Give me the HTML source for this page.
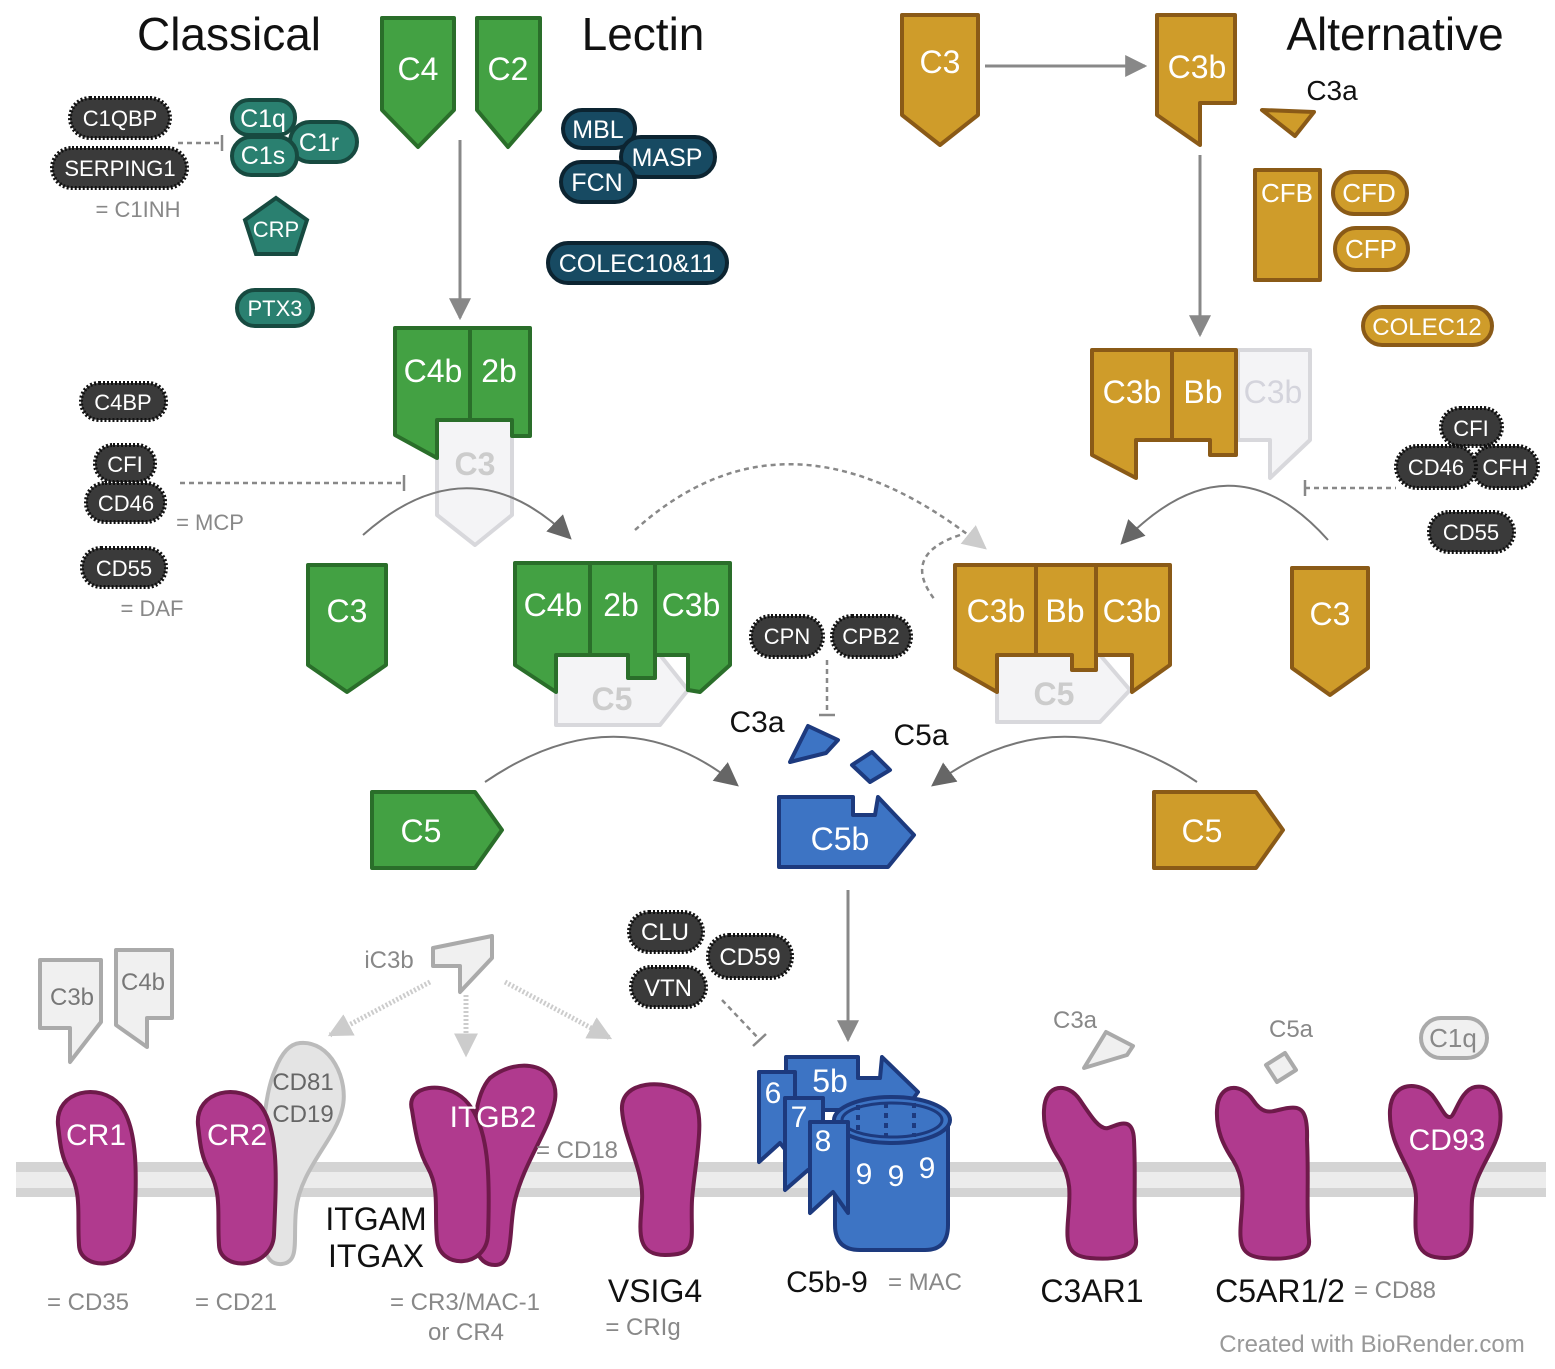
<!DOCTYPE html>
<html><head><meta charset="utf-8"><style>
html,body{margin:0;padding:0;background:#fff}
svg{display:block}
text{font-family:"Liberation Sans",sans-serif}
.w{fill:#fff;text-anchor:middle}
.g{fill:#888}
.k{fill:#111}
.m{text-anchor:middle}
.gr{fill:#43a143;stroke:#2a6e2a;stroke-width:4;stroke-linejoin:round}
.go{fill:#cf9c2a;stroke:#8a5a17;stroke-width:4;stroke-linejoin:round}
.gh{fill:#f4f4f6;stroke:#d8d8dc;stroke-width:4;stroke-linejoin:round}
.gg{fill:#f0f0f0;stroke:#aaa;stroke-width:4;stroke-linejoin:round}
.bl{fill:#3d74c4;stroke:#1d3a7e;stroke-width:4;stroke-linejoin:round}
.mg{fill:#b03a8e;stroke:#6e1a4a;stroke-width:4;stroke-linejoin:round}
.tl{fill:#2a8070;stroke:#174a40;stroke-width:4}
.nv{fill:#174a62;stroke:#0c2431;stroke-width:4}
.dk{fill:#3a3a3a;stroke:#111;stroke-width:4;stroke-dasharray:2 2}
.ln{stroke:#888;stroke-width:3;fill:none}
.dl{stroke:#888;stroke-width:2.5;fill:none;stroke-dasharray:5 4}
</style></head><body>
<svg width="1555" height="1369" viewBox="0 0 1555 1369" xmlns="http://www.w3.org/2000/svg">
<defs>
<marker id="ab" viewBox="0 0 20 20" markerWidth="22" markerHeight="22" refX="18" refY="10" orient="auto" markerUnits="userSpaceOnUse"><path d="M0,0 L20,10 L0,20 z" fill="#888"/></marker>
<marker id="ac" viewBox="0 0 20 20" markerWidth="24" markerHeight="24" refX="18" refY="10" orient="auto" markerUnits="userSpaceOnUse"><path d="M0,0 L20,10 L0,20 z" fill="#666"/></marker>
<marker id="al" viewBox="0 0 20 20" markerWidth="24" markerHeight="24" refX="18" refY="10" orient="auto" markerUnits="userSpaceOnUse"><path d="M0,0 L20,10 L0,20 z" fill="#ccc"/></marker>
</defs>

<rect x="16" y="1162" width="1530" height="35" fill="#d4d4d4"/>
<rect x="16" y="1172" width="1530" height="16" fill="#ececec"/>

<text x="229" y="50" class="m k" font-size="46">Classical</text>
<text x="643" y="50" class="m k" font-size="46">Lectin</text>
<text x="1395" y="50" class="m k" font-size="46">Alternative</text>

<polygon class="gr" points="382,18 454,18 454,110 418,147 382,110"/>
<text x="418" y="80" class="w" font-size="32">C4</text>
<polygon class="gr" points="477,18 540,18 540,110 508,147 477,110"/>
<text x="508" y="80" class="w" font-size="32">C2</text>
<line x1="460" y1="140" x2="460" y2="318" class="ln" marker-end="url(#ab)"/>

<rect x="70" y="98" width="100" height="40" rx="20" class="dk"/><text x="120" y="126" class="w" font-size="22">C1QBP</text>
<rect x="52" y="148" width="135" height="40" rx="20" class="dk"/><text x="120" y="176" class="w" font-size="22">SERPING1</text>
<text x="138" y="217" class="g m" font-size="22">= C1INH</text>
<line x1="178" y1="143" x2="222" y2="143" class="dl"/><line x1="222" y1="135" x2="222" y2="151" stroke="#888" stroke-width="2.5"/>
<rect x="290" y="122" width="67" height="40" rx="20" class="tl"/><text x="319" y="151" class="w" font-size="25">C1r</text>
<rect x="232" y="100" width="63" height="35" rx="17" class="tl"/><text x="263" y="127" class="w" font-size="25">C1q</text>
<rect x="232" y="137" width="65" height="38" rx="19" class="tl"/><text x="263" y="164" class="w" font-size="25">C1s</text>
<polygon class="tl" points="276,198 307,220 296,254 256,254 245,220"/><text x="276" y="237" class="w" font-size="22">CRP</text>
<rect x="237" y="290" width="76" height="36" rx="18" class="tl"/><text x="275" y="316" class="w" font-size="22">PTX3</text>

<rect x="563" y="110" width="72" height="38" rx="19" class="nv"/><text x="598" y="138" class="w" font-size="25">MBL</text>
<rect x="621" y="137" width="94" height="40" rx="20" class="nv"/><text x="667" y="166" class="w" font-size="25">MASP</text>
<rect x="561" y="162" width="74" height="40" rx="20" class="nv"/><text x="597" y="191" class="w" font-size="25">FCN</text>
<rect x="548" y="243" width="179" height="40" rx="20" class="nv"/><text x="637" y="272" class="w" font-size="25">COLEC10&amp;11</text>

<polygon class="go" points="902,15 978,15 978,115 940,145 902,115"/>
<text x="940" y="73" class="w" font-size="32">C3</text>
<line x1="985" y1="66" x2="1145" y2="66" class="ln" marker-end="url(#ab)"/>
<polygon class="go" points="1157,15 1235,15 1235,103 1200,103 1200,145 1157,115"/>
<text x="1197" y="78" class="w" font-size="32">C3b</text>
<polygon class="go" points="1262,110 1314,112 1295,136"/>
<text x="1332" y="100" class="m k" font-size="28">C3a</text>
<rect x="1255" y="170" width="65" height="110" class="go"/><text x="1287" y="202" class="w" font-size="26">CFB</text>
<rect x="1333" y="172" width="74" height="42" rx="21" class="go"/><text x="1369" y="202" class="w" font-size="26">CFD</text>
<rect x="1335" y="228" width="73" height="42" rx="21" class="go"/><text x="1371" y="258" class="w" font-size="26">CFP</text>
<rect x="1363" y="307" width="129" height="38" rx="19" class="go"/><text x="1427" y="335" class="w" font-size="24">COLEC12</text>
<line x1="1200" y1="155" x2="1200" y2="335" class="ln" marker-end="url(#ab)"/>

<polygon class="gh" points="1238,350 1310,350 1310,440 1270,478 1270,440 1238,440"/>
<text x="1273" y="403" class="m" fill="#d4d4dc" font-size="32">C3b</text>
<polygon class="go" points="1092,350 1172,350 1172,440 1136,440 1136,478 1092,455"/>
<polygon class="go" points="1172,350 1236,350 1236,455 1210,455 1210,440 1172,440"/>
<text x="1132" y="403" class="w" font-size="32">C3b</text>
<text x="1203" y="403" class="w" font-size="32">Bb</text>

<rect x="1441" y="408" width="61" height="38" rx="19" class="dk"/><text x="1471" y="436" class="w" font-size="22">CFI</text>
<rect x="1472" y="446" width="66" height="42" rx="21" class="dk"/><text x="1505" y="475" class="w" font-size="22">CFH</text>
<rect x="1396" y="446" width="80" height="42" rx="21" class="dk"/><text x="1436" y="475" class="w" font-size="22">CD46</text>
<rect x="1429" y="512" width="85" height="40" rx="20" class="dk"/><text x="1471" y="540" class="w" font-size="22">CD55</text>
<line x1="1305" y1="488" x2="1396" y2="488" class="dl"/><line x1="1305" y1="480" x2="1305" y2="496" stroke="#888" stroke-width="2.5"/>
<path d="M1328,540 Q1230,430 1122,543" stroke="#777" stroke-width="2" fill="none" marker-end="url(#ac)"/>

<polygon class="gh" points="437,420 512,420 512,515 475,545 437,515"/>
<text x="475" y="475" class="m" fill="#ccc" font-size="32" font-weight="bold">C3</text>
<polygon class="gr" points="395,328 470,328 470,420 437,420 437,458 395,435"/>
<polygon class="gr" points="470,328 530,328 530,436 512,436 512,420 470,420"/>
<text x="433" y="382" class="w" font-size="32">C4b</text>
<text x="499" y="382" class="w" font-size="32">2b</text>

<rect x="81" y="383" width="85" height="37" rx="18" class="dk"/><text x="123" y="410" class="w" font-size="22">C4BP</text>
<rect x="95" y="445" width="60" height="37" rx="18" class="dk"/><text x="125" y="472" class="w" font-size="22">CFI</text>
<rect x="86" y="483" width="79" height="39" rx="19" class="dk"/><text x="126" y="511" class="w" font-size="22">CD46</text>
<text x="210" y="530" class="g m" font-size="22">= MCP</text>
<rect x="82" y="548" width="84" height="39" rx="19" class="dk"/><text x="124" y="576" class="w" font-size="22">CD55</text>
<text x="152" y="616" class="g m" font-size="22">= DAF</text>
<line x1="180" y1="483" x2="404" y2="483" class="dl"/><line x1="404" y1="475" x2="404" y2="491" stroke="#888" stroke-width="2.5"/>
<path d="M363,535 Q470,440 570,538" stroke="#777" stroke-width="2" fill="none" marker-end="url(#ac)"/>

<path d="M635,530 Q790,390 985,548" class="dl" stroke="#c4c4c4" marker-end="url(#al)"/>
<path d="M960,535 Q900,555 935,600" class="dl" stroke="#ccc"/>

<polygon class="gr" points="308,565 386,565 386,665 347,692 308,665"/>
<text x="347" y="622" class="w" font-size="32">C3</text>
<polygon class="gh" points="556,655 660,655 688,690 660,725 556,725"/>
<text x="612" y="710" class="m" fill="#ccc" font-size="32" font-weight="bold">C5</text>
<polygon class="gr" points="515,563 590,563 590,655 556,655 556,692 515,665"/>
<polygon class="gr" points="590,563 655,563 655,678 628,678 628,655 590,655"/>
<polygon class="gr" points="655,563 730,563 730,665 700,692 688,690 688,655 655,655"/>
<text x="553" y="616" class="w" font-size="32">C4b</text>
<text x="621" y="616" class="w" font-size="32">2b</text>
<text x="691" y="616" class="w" font-size="32">C3b</text>

<polygon class="gh" points="997,655 1100,655 1130,690 1100,722 997,722"/>
<text x="1054" y="705" class="m" fill="#ccc" font-size="32" font-weight="bold">C5</text>
<polygon class="go" points="955,565 1036,565 1036,655 997,655 997,692 955,668"/>
<polygon class="go" points="1036,565 1096,565 1096,670 1072,670 1072,655 1036,655"/>
<polygon class="go" points="1096,565 1170,565 1170,665 1132,692 1132,655 1096,655"/>
<text x="996" y="622" class="w" font-size="32">C3b</text>
<text x="1065" y="622" class="w" font-size="32">Bb</text>
<text x="1132" y="622" class="w" font-size="32">C3b</text>
<polygon class="go" points="1292,568 1368,568 1368,668 1330,695 1292,668"/>
<text x="1330" y="625" class="w" font-size="32">C3</text>

<rect x="751" y="616" width="72" height="41" rx="20" class="dk"/><text x="787" y="644" class="w" font-size="22">CPN</text>
<rect x="832" y="616" width="79" height="41" rx="20" class="dk"/><text x="871" y="644" class="w" font-size="22">CPB2</text>
<line x1="827" y1="660" x2="827" y2="715" class="dl"/><line x1="819" y1="715" x2="835" y2="715" stroke="#888" stroke-width="2.5"/>
<text x="757" y="732" class="m k" font-size="30">C3a</text>
<text x="921" y="745" class="m k" font-size="30">C5a</text>
<polygon class="bl" points="808,726 838,740 826,753 790,762"/>
<polygon class="bl" points="852,765 872,752 890,770 870,782"/>

<path d="M485,782 Q620,690 737,785" stroke="#777" stroke-width="2" fill="none" marker-end="url(#ac)"/>
<path d="M1197,782 Q1060,690 933,785" stroke="#777" stroke-width="2" fill="none" marker-end="url(#ac)"/>
<polygon class="gr" points="372,792 475,792 502,830 475,868 372,868"/>
<text x="421" y="842" class="w" font-size="32">C5</text>
<polygon class="go" points="1154,792 1256,792 1283,830 1256,868 1154,868"/>
<text x="1202" y="842" class="w" font-size="32">C5</text>
<polygon class="bl" points="779,797 853,797 853,815 875,815 878,797 914,835 888,867 779,867"/>
<text x="840" y="850" class="w" font-size="32">C5b</text>
<line x1="848" y1="890" x2="848" y2="1040" class="ln" marker-end="url(#ab)"/>

<rect x="629" y="912" width="74" height="40" rx="20" class="dk"/><text x="665" y="940" class="w" font-size="24">CLU</text>
<rect x="708" y="935" width="84" height="43" rx="21" class="dk"/><text x="750" y="965" class="w" font-size="24">CD59</text>
<rect x="631" y="967" width="75" height="40" rx="20" class="dk"/><text x="668" y="996" class="w" font-size="24">VTN</text>
<line x1="722" y1="1000" x2="760" y2="1040" class="dl"/><line x1="753" y1="1046" x2="766" y2="1034" stroke="#888" stroke-width="2.5"/>

<polygon class="gg" points="40,960 101,960 101,1022 70,1062 70,1028 40,1028"/>
<text x="72" y="1005" class="m" fill="#777" font-size="24">C3b</text>
<polygon class="gg" points="116,950 172,950 172,1018 147,1018 147,1047 116,1025"/>
<text x="143" y="990" class="m" fill="#777" font-size="24">C4b</text>
<text x="389" y="968" class="m" fill="#888" font-size="24">iC3b</text>
<polygon class="gg" points="433,948 492,936 492,958 460,992 460,966 433,966"/>
<line x1="430" y1="982" x2="330" y2="1035" stroke="#ccc" stroke-width="5" stroke-dasharray="2 2" marker-end="url(#al)"/>
<line x1="466" y1="995" x2="466" y2="1055" stroke="#ccc" stroke-width="5" stroke-dasharray="2 2" marker-end="url(#al)"/>
<line x1="505" y1="982" x2="610" y2="1038" stroke="#ccc" stroke-width="5" stroke-dasharray="2 2" marker-end="url(#al)"/>

<path d="M300,1043 C330,1040 350,1080 342,1110 C335,1140 300,1170 296,1210 C293,1240 300,1262 282,1264 C262,1266 262,1240 262,1200 C262,1150 262,1100 275,1070 C282,1052 290,1044 300,1043 Z" fill="#e4e4e4" stroke="#bbb" stroke-width="4"/>
<text x="303" y="1090" class="m" fill="#666" font-size="24">CD81</text>
<text x="303" y="1122" class="m" fill="#666" font-size="24">CD19</text>

<path class="mg" d="M58,1125 C55,1090 100,1082 120,1105 C140,1130 136,1185 134,1235 C132,1270 80,1272 79,1245 C77,1215 82,1195 70,1172 C60,1155 60,1140 58,1125 Z"/>
<text x="96" y="1145" class="w" font-size="30">CR1</text>
<text x="88" y="1310" class="g m" font-size="24">= CD35</text>
<path class="mg" transform="translate(140,0)" d="M58,1125 C55,1090 100,1082 120,1105 C140,1130 136,1185 134,1235 C132,1270 80,1272 79,1245 C77,1215 82,1195 70,1172 C60,1155 60,1140 58,1125 Z"/>
<text x="237" y="1145" class="w" font-size="30">CR2</text>
<text x="236" y="1310" class="g m" font-size="24">= CD21</text>

<path class="mg" d="M490,1078 C520,1055 560,1065 555,1100 C550,1130 525,1160 515,1200 C508,1230 515,1265 495,1265 C475,1265 470,1240 472,1200 C474,1150 470,1100 490,1078 Z"/>
<path class="mg" d="M412,1110 C405,1085 445,1080 465,1100 C490,1125 490,1180 488,1235 C486,1268 440,1270 437,1240 C434,1210 440,1190 428,1168 C418,1150 415,1130 412,1110 Z"/>
<text x="493" y="1127" class="w" font-size="30">ITGB2</text>
<text x="577" y="1158" class="g m" font-size="24">= CD18</text>
<text x="376" y="1230" class="m k" font-size="32">ITGAM</text>
<text x="376" y="1267" class="m k" font-size="32">ITGAX</text>
<text x="465" y="1310" class="g m" font-size="24">= CR3/MAC-1</text>
<text x="466" y="1340" class="g m" font-size="24">or CR4</text>

<path class="mg" d="M622,1110 C620,1080 665,1078 690,1095 C708,1110 695,1160 692,1200 C690,1240 700,1255 665,1255 C635,1255 640,1230 642,1200 C644,1170 624,1140 622,1110 Z"/>
<text x="655" y="1302" class="m k" font-size="32">VSIG4</text>
<text x="643" y="1335" class="g m" font-size="24">= CRIg</text>

<polygon class="bl" points="786,1057 858,1057 858,1078 880,1078 882,1057 918,1092 905,1110 786,1110"/>
<text x="830" y="1092" class="w" font-size="32">5b</text>
<polygon class="bl" points="759,1072 795,1072 795,1162 780,1143 759,1162"/>
<text x="773" y="1103" class="w" font-size="30">6</text>
<polygon class="bl" points="785,1098 823,1098 823,1190 808,1170 785,1190"/>
<text x="799" y="1127" class="w" font-size="30">7</text>
<path class="bl" d="M835,1120 L835,1225 Q835,1250 860,1250 L925,1250 Q948,1250 948,1225 L948,1120 Z"/>
<ellipse cx="892" cy="1120" rx="58" ry="23" class="bl"/>
<ellipse cx="892" cy="1120" rx="50" ry="17" fill="none" stroke="#1d3a7e" stroke-width="3"/>
<g stroke="#1d3a7e" stroke-width="4" stroke-dasharray="5 5"><line x1="858" y1="1105" x2="858" y2="1135"/><line x1="886" y1="1103" x2="886" y2="1137"/><line x1="914" y1="1103" x2="914" y2="1137"/></g>
<polygon class="bl" points="810,1122 848,1122 848,1213 833,1192 810,1213"/>
<text x="823" y="1151" class="w" font-size="30">8</text>
<text x="864" y="1184" class="w" font-size="30">9</text>
<text x="896" y="1186" class="w" font-size="30">9</text>
<text x="927" y="1178" class="w" font-size="30">9</text>
<text x="827" y="1292" class="m k" font-size="30">C5b-9</text>
<text x="925" y="1290" class="g m" font-size="24">= MAC</text>

<text x="1075" y="1028" class="g m" font-size="24">C3a</text>
<polygon class="gg" points="1106,1032 1133,1046 1127,1055 1084,1068"/>
<path class="mg" d="M1044,1110 C1045,1083 1068,1082 1080,1100 C1092,1118 1100,1130 1108,1128 C1118,1125 1133,1115 1134,1140 C1136,1180 1133,1210 1136,1240 C1138,1258 1110,1260 1090,1258 C1068,1256 1066,1245 1068,1220 C1070,1195 1072,1180 1060,1160 C1050,1145 1043,1130 1044,1110 Z"/>
<text x="1092" y="1302" class="m k" font-size="32">C3AR1</text>
<text x="1291" y="1037" class="g m" font-size="24">C5a</text>
<polygon class="gg" points="1266,1065 1285,1053 1296,1070 1277,1082"/>
<path class="mg" transform="translate(173,0)" d="M1044,1110 C1045,1083 1068,1082 1080,1100 C1092,1118 1100,1110 1115,1108 C1128,1106 1135,1110 1134,1140 C1136,1180 1133,1210 1136,1240 C1138,1258 1110,1260 1090,1258 C1068,1256 1066,1245 1068,1220 C1070,1195 1072,1180 1060,1160 C1050,1145 1043,1130 1044,1110 Z"/>
<text x="1280" y="1302" class="m k" font-size="32">C5AR1/2</text>
<text x="1395" y="1298" class="g m" font-size="24">= CD88</text>
<rect x="1421" y="1018" width="66" height="40" rx="20" class="gg"/><text x="1453" y="1047" class="m" fill="#888" font-size="26">C1q</text>
<path class="mg" d="M1390,1110 C1392,1080 1420,1082 1432,1095 C1442,1108 1445,1118 1450,1117 C1455,1117 1460,1090 1475,1087 C1492,1084 1503,1100 1500,1125 C1497,1150 1475,1170 1472,1200 C1470,1230 1478,1258 1445,1258 C1412,1258 1415,1235 1416,1200 C1417,1170 1388,1150 1390,1110 Z"/>
<text x="1447" y="1150" class="w" font-size="30">CD93</text>

<text x="1372" y="1352" class="m" fill="#999" font-size="24">Created with BioRender.com</text>
</svg>
</body></html>
